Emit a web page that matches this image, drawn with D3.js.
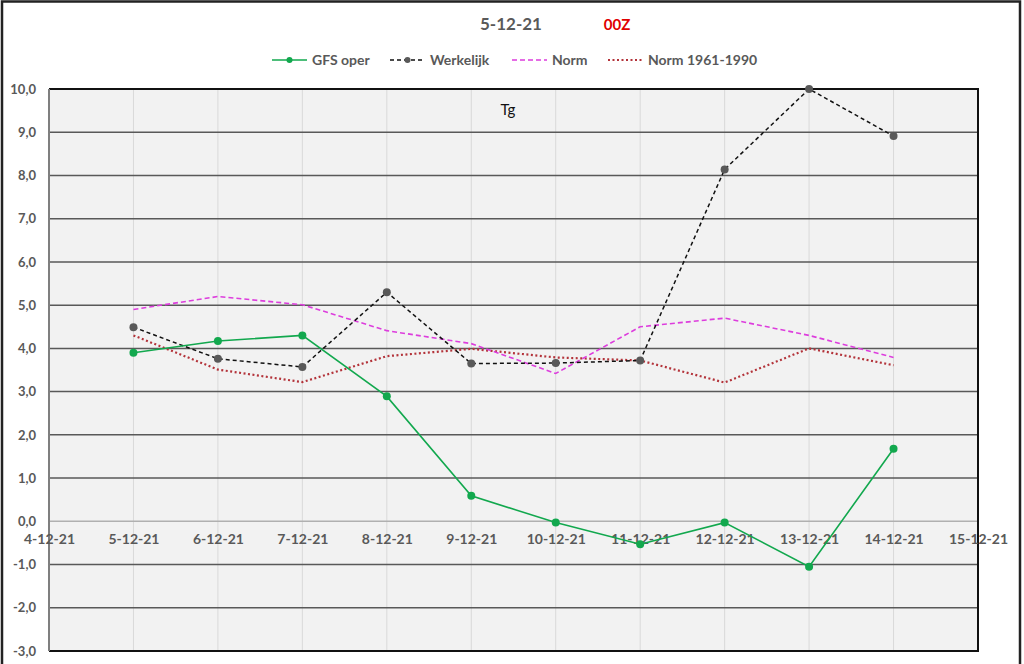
<!DOCTYPE html>
<html>
<head>
<meta charset="utf-8">
<script src="https://cdn.jsdelivr.net/npm/d3@7"></script>
<style>
  body { margin: 0; background: #fff; }
  text { font-family: Lato, "Open Sans", sans-serif; }
</style>
</head>
<body>
<div id="chart"></div>
<script>
// ================================ data
var days = ["2021-12-05", "2021-12-06", "2021-12-07", "2021-12-08", "2021-12-09",
            "2021-12-10", "2021-12-11", "2021-12-12", "2021-12-13", "2021-12-14"];
var gfsOper    = [3.90, 4.17, 4.30, 2.89, 0.59, -0.03, -0.53, -0.03, -1.05, 1.68];
var werkelijk  = [4.49, 3.76, 3.57, 5.30, 3.65, 3.66, 3.72, 8.14, 10.0, 8.91];
var norm       = [4.90, 5.20, 5.01, 4.41, 4.11, 3.42, 4.50, 4.70, 4.30, 3.79];
var norm6190   = [4.30, 3.51, 3.22, 3.82, 3.99, 3.79, 3.72, 3.21, 4.00, 3.61];
var yTicks     = [-3, -2, -1, 0, 1, 2, 3, 4, 5, 6, 7, 8, 9, 10];
var xDomain    = ["2021-12-04", "2021-12-15"];

var svgWidth = 1024;
var svgHeight = 664;

// plot area
var chartMargin = { top: 89, right: 46, bottom: 13, left: 49 };
var chartWidth = svgWidth - chartMargin.left - chartMargin.right;
var chartHeight = svgHeight - chartMargin.top - chartMargin.bottom;

var parse = d3.timeParse("%Y-%m-%d");
var locale = d3.formatLocale({ decimal: ",", thousands: ".", grouping: [3], currency: ["", ""], minus: "-" });
var fmt = locale.format(".1f");

var svg = d3.select("#chart")
  .append("svg")
  .attr("width", svgWidth)
  .attr("height", svgHeight);

// outer chart border
svg.append("rect")
  .attr("x", 2)
  .attr("y", 1.5)
  .attr("width", 1018)
  .attr("height", 670)
  .style("fill", "white")
  .style("stroke", "#222")
  .style("stroke-width", 2.5);

var chartGroup = svg.append("g")
  .attr("transform", `translate(${chartMargin.left}, ${chartMargin.top})`);

var xScale = d3.scaleTime()
  .domain(xDomain.map(parse))
  .range([0, chartWidth]);

var yScale = d3.scaleLinear()
  .domain([-3, 10])
  .range([chartHeight, 0]);

// plot background
chartGroup.append("rect")
  .attr("width", chartWidth)
  .attr("height", chartHeight)
  .attr("fill", "#f2f2f2");

// vertical gridlines
var dayTicks = d3.timeDay.range(parse(xDomain[0]), d3.timeDay.offset(parse(xDomain[1]), 1));
chartGroup.selectAll(".vgrid")
  .data(dayTicks.slice(1, -1))
  .enter()
  .append("line")
  .attr("x1", d => xScale(d))
  .attr("x2", d => xScale(d))
  .attr("y1", 0)
  .attr("y2", chartHeight)
  .style("stroke", "#d9d9d9")
  .style("stroke-width", 1);

// horizontal gridlines
chartGroup.selectAll(".hgrid")
  .data(yTicks)
  .enter()
  .append("line")
  .attr("x1", 0)
  .attr("x2", chartWidth)
  .attr("y1", d => yScale(d))
  .attr("y2", d => yScale(d))
  .style("stroke", d => d === 0 ? "#b0b0b0" : "#595959")
  .style("stroke-width", 1.5);

// plot border: black top/right/bottom, grey left
chartGroup.append("path")
  .attr("d", `M0,0H${chartWidth}V${chartHeight}H0`)
  .style("fill", "none")
  .style("stroke", "#111")
  .style("stroke-width", 2);
chartGroup.append("line")
  .attr("x1", 0).attr("x2", 0)
  .attr("y1", 0).attr("y2", chartHeight)
  .style("stroke", "#7f7f7f")
  .style("stroke-width", 2);

// y axis labels
var leftAxis = d3.axisLeft(yScale).tickValues(yTicks).tickFormat(fmt).tickSize(0).tickPadding(13);
chartGroup.append("g")
  .call(leftAxis)
  .call(g => g.select(".domain").remove())
  .selectAll("text")
  .style("font-family", "Lato, sans-serif")
  .style("font-size", "13px")
  .style("font-weight", "bold")
  .style("fill", "#595959");

// x axis labels (cross at 0)
var bottomAxis = d3.axisBottom(xScale).tickValues(dayTicks).tickFormat(d3.timeFormat("%-d-%m-%y")).tickSize(0).tickPadding(13);
chartGroup.append("g")
  .attr("transform", `translate(0, ${yScale(0)})`)
  .call(bottomAxis)
  .call(g => g.select(".domain").remove())
  .selectAll("text")
  .style("font-family", "Lato, sans-serif")
  .style("font-size", "14px")
  .style("font-weight", "bold")
  .style("fill", "#595959");

// series
var series = [
  { name: "GFS oper", values: gfsOper, color: "#12a84e", dash: null, width: 1.6, marker: "#12a84e" },
  { name: "Werkelijk", values: werkelijk, color: "#111", dash: "4,3", width: 1.5, marker: "#595959" },
  { name: "Norm", values: norm, color: "#dd3ddd", dash: "5,3", width: 1.6, marker: null },
  { name: "Norm 1961-1990", values: norm6190, color: "#b3333a", dash: "2,2.5", width: 2.2, marker: null }
];

var line = d3.line()
  .x(d => xScale(d.date))
  .y(d => yScale(d.value));

// draw in reverse so GFS ends on top
series.slice().reverse().forEach(function (s) {
  var pts = days.map((d, i) => ({ date: parse(d), value: s.values[i] }));
  chartGroup.append("path")
    .datum(pts)
    .attr("d", line)
    .style("fill", "none")
    .style("stroke", s.color)
    .style("stroke-width", s.width)
    .style("stroke-dasharray", s.dash);
  if (s.marker) {
    chartGroup.selectAll(null)
      .data(pts)
      .enter()
      .append("circle")
      .attr("cx", d => xScale(d.date))
      .attr("cy", d => yScale(d.value))
      .attr("r", 4)
      .attr("fill", s.marker);
  }
});

// title
svg.append("text")
  .attr("x", 511)
  .attr("y", 30)
  .style("text-anchor", "middle")
  .style("font-size", "17px")
  .style("font-weight", "bold")
  .style("fill", "#595959")
  .text("5-12-21");
svg.append("text")
  .attr("x", 617)
  .attr("y", 30)
  .style("text-anchor", "middle")
  .style("font-size", "15px")
  .style("font-weight", "bold")
  .style("fill", "#e00000")
  .text("00Z");

// "Tg" label
svg.append("text")
  .attr("x", 508)
  .attr("y", 115)
  .style("text-anchor", "middle")
  .style("font-size", "15px")
  .style("fill", "#111")
  .text("Tg");

// legend
var legendX = [272, 390, 512, 608];
var legend = svg.selectAll(".legend")
  .data(series)
  .enter()
  .append("g")
  .attr("transform", (d, i) => `translate(${legendX[i]}, 60)`);
legend.append("line")
  .attr("x1", 0).attr("x2", 35)
  .attr("y1", 0).attr("y2", 0)
  .style("stroke", d => d.color)
  .style("stroke-width", d => d.width)
  .style("stroke-dasharray", d => d.dash);
legend.filter(d => d.marker)
  .append("circle")
  .attr("cx", 17.5).attr("cy", 0).attr("r", 3)
  .attr("fill", d => d.marker);
legend.append("text")
  .attr("x", 40)
  .attr("y", 5)
  .style("font-size", "14px")
  .style("font-weight", "bold")
  .style("fill", "#595959")
  .text(d => d.name);
</script>
</body>
</html>
